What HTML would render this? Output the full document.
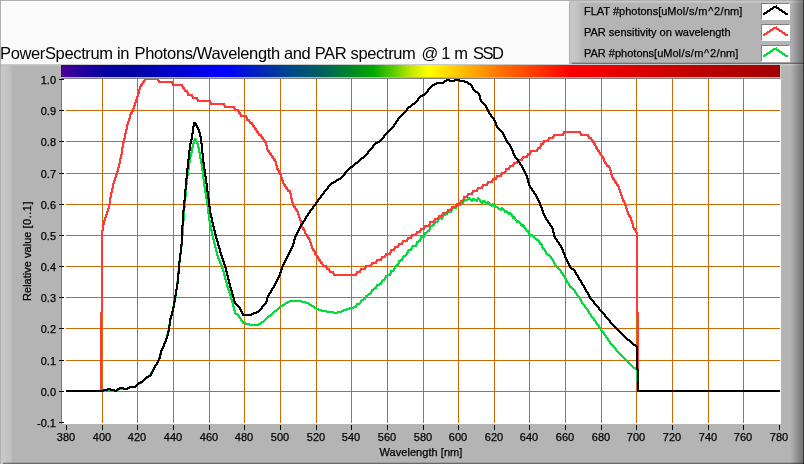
<!DOCTYPE html>
<html><head><meta charset="utf-8"><title>PowerSpectrum</title>
<style>
html,body{margin:0;padding:0;}
body{width:804px;height:464px;overflow:hidden;background:#fafafa;font-family:"Liberation Sans",sans-serif;position:relative;}
#top{position:absolute;left:0;top:0;width:804px;height:64px;background:#fafafa;box-sizing:border-box;border-left:1px solid #b0b0b0;border-top:1px solid #b0b0b0;box-shadow:inset 1px 1px 0 #fff;}
#title{position:absolute;left:0px;top:43px;font-size:16.5px;line-height:20px;color:#000;white-space:nowrap;letter-spacing:-0.36px;}
#panel{position:absolute;left:0;top:64px;width:804px;height:400px;background:#b4b4b4;}
#pl{position:absolute;left:0;top:64px;width:13px;height:400px;background:linear-gradient(to right,#b0b0b0 0,#b0b0b0 1px,#c8c8c8 1px,#c6c6c6 5px,#c0c0c0 10px,#b4b4b4 13px);}
#pt{position:absolute;left:1px;top:64px;width:803px;height:2px;background:linear-gradient(to bottom,#cacaca 0,#cacaca 1px,#c0c0c0 1px,#c0c0c0 2px);}
#pr{position:absolute;left:790px;top:0;width:14px;height:464px;background:linear-gradient(to right,rgba(0,0,0,0) 0,rgba(0,0,0,0.07) 3px,rgba(0,0,0,0.19) 7px,rgba(0,0,0,0.36) 13px,rgba(0,0,0,0.66) 13px,rgba(0,0,0,0.68) 14px);}
#pb{position:absolute;left:3px;top:462px;width:801px;height:2px;background:linear-gradient(to bottom,rgba(0,0,0,0.12) 0,rgba(0,0,0,0.12) 1px,rgba(0,0,0,0.42) 1px,rgba(0,0,0,0.42) 2px);}
#bar{position:absolute;left:61px;top:65px;width:719px;height:12px;background:linear-gradient(to right,
#480098 0px,#2000a0 25px,#0800a0 45px,#0000a4 70px,#0000d0 115px,#0000ff 165px,#0020c0 195px,#004888 230px,#006060 260px,#008030 285px,#00a800 312px,#50c800 330px,#c0e800 350px,#ffff00 367px,#ffc000 400px,#ff7000 440px,#ff3000 480px,#f80000 510px,#f00000 540px,#c80000 620px,#a00000 719px);}
#barr{position:absolute;left:780px;top:65px;width:1px;height:12px;background:#c4cccc;}
#plot{position:absolute;left:62px;top:79px;width:719px;height:345px;background:#fff;}
#pborderl{position:absolute;left:61px;top:78px;width:1px;height:346px;background:#787878;}
#pbordert{position:absolute;left:61px;top:78px;width:719px;height:1px;background:#808080;}
svg{position:absolute;left:0;top:0;}
.xl,.yl,.lg,#xt,#title{will-change:transform;}
.xl,.yl,.lg,#xt,#yt span{-webkit-text-stroke:0.25px #000;}
.xl{position:absolute;top:430px;width:40px;text-align:center;font-size:11px;line-height:14px;color:#000;}
.yl{position:absolute;left:16px;width:40px;text-align:right;font-size:11px;line-height:14px;color:#000;}
#xt{position:absolute;left:321.4px;top:445px;letter-spacing:0.05px;width:200px;text-align:center;font-size:11px;line-height:14px;}
#yt{position:absolute;left:26.8px;top:251px;width:0;height:0;}
#yt span{position:absolute;display:block;white-space:nowrap;font-size:11px;line-height:14px;letter-spacing:0.02px;transform:translate(-50%,-50%) rotate(-90deg);}
#legend{position:absolute;left:569px;top:0;width:235px;height:64px;background:#b4b4b4;}
#ll{position:absolute;left:569px;top:0;width:13px;height:62px;background:linear-gradient(to right,#b0b0b0 0,#b0b0b0 1px,#c8c8c8 1px,#c6c6c6 5px,#c0c0c0 10px,#b4b4b4 13px);}
#lt{position:absolute;left:569px;top:0;width:235px;height:3px;background:linear-gradient(to bottom,#b0b0b0 0,#b0b0b0 1px,#c8c8c8 1px,#c2c2c2 3px);}
#lb{position:absolute;left:572px;top:62px;width:232px;height:2px;background:linear-gradient(to bottom,#a0a0a0 0,#a0a0a0 1px,#707070 1px,#707070 2px);}
.lg{position:absolute;left:584px;font-size:11px;line-height:14px;white-space:nowrap;color:#000;}
.lg i{font-style:normal;margin:0 0.4px;}.lg b{font-weight:normal;margin:0 0.7px;}
#yt u{text-decoration:none;letter-spacing:0.5px;}
.ib{position:absolute;left:761px;width:29px;height:17px;background:#fff;box-sizing:border-box;border-top:1px solid #808080;border-left:1px solid #808080;border-right:1px solid #fff;border-bottom:1px solid #fff;}
</style></head><body>
<div id="top"></div>
<div id="title">PowerSpectrum in <span style="margin-left:1.3px">Photons/Wavelength and PAR spectrum</span> <span style="margin-left:1.8px">@</span> <span style="margin-left:-0.8px">1 m</span> <span style="margin-left:1px;letter-spacing:-1.5px">SSD</span></div>
<div id="panel"></div><div id="pl"></div><div id="pt"></div>
<div id="legend"></div><div id="ll"></div><div id="lt"></div><div id="lb"></div>
<div id="bar"></div><div id="barr"></div>
<div id="plot"></div><div id="pborderl"></div><div id="pbordert"></div>
<div class="lg" style="top:4px">FLAT #photons[uMol<i>/</i>s<i>/</i>m<b>^</b>2<i>/</i>nm]</div>
<div class="lg" style="top:25px">PAR sensitivity on wavelength</div>
<div class="lg" style="top:46px">PAR #photons[uMol<i>/</i>s<i>/</i>m<b>^</b>2<i>/</i>nm]</div>
<div class="ib" style="top:3px"></div><div class="ib" style="top:24px"></div><div class="ib" style="top:45px"></div>
<div class="xl" style="left:45.5px">380</div><div class="xl" style="left:81.5px">400</div><div class="xl" style="left:116.5px">420</div><div class="xl" style="left:152.5px">440</div><div class="xl" style="left:188.5px">460</div><div class="xl" style="left:223.5px">480</div><div class="xl" style="left:259.5px">500</div><div class="xl" style="left:295.5px">520</div><div class="xl" style="left:330.5px">540</div><div class="xl" style="left:366.5px">560</div><div class="xl" style="left:402.5px">580</div><div class="xl" style="left:437.5px">600</div><div class="xl" style="left:473.5px">620</div><div class="xl" style="left:508.5px">640</div><div class="xl" style="left:544.5px">660</div><div class="xl" style="left:580.5px">680</div><div class="xl" style="left:615.5px">700</div><div class="xl" style="left:651.5px">720</div><div class="xl" style="left:687.5px">740</div><div class="xl" style="left:722.5px">760</div><div class="xl" style="left:758.5px">780</div><div class="yl" style="top:73px">1.0</div><div class="yl" style="top:104px">0.9</div><div class="yl" style="top:135px">0.8</div><div class="yl" style="top:167px">0.7</div><div class="yl" style="top:198px">0.6</div><div class="yl" style="top:229px">0.5</div><div class="yl" style="top:260px">0.4</div><div class="yl" style="top:291px">0.3</div><div class="yl" style="top:322px">0.2</div><div class="yl" style="top:354px">0.1</div><div class="yl" style="top:385px">0.0</div><div class="yl" style="top:416px">-0.1</div>
<div id="xt">Wavelength [nm]</div>
<div id="yt"><span>Relative value <u>[0..1]</u></span></div>
<svg width="804" height="464" viewBox="0 0 804 464" shape-rendering="crispEdges">
<rect x="102" y="79" width="1" height="344" fill="#cc6a08"/><rect x="137" y="79" width="1" height="344" fill="#cc6a08"/><rect x="173" y="79" width="1" height="344" fill="#cc6a08"/><rect x="209" y="79" width="1" height="344" fill="#cc6a08"/><rect x="244" y="79" width="1" height="344" fill="#cc6a08"/><rect x="280" y="79" width="1" height="344" fill="#cc6a08"/><rect x="316" y="79" width="1" height="344" fill="#cc6a08"/><rect x="351" y="79" width="1" height="344" fill="#cc6a08"/><rect x="387" y="79" width="1" height="344" fill="#cc6a08"/><rect x="423" y="79" width="1" height="344" fill="#cc6a08"/><rect x="458" y="79" width="1" height="344" fill="#cc6a08"/><rect x="494" y="79" width="1" height="344" fill="#cc6a08"/><rect x="529" y="79" width="1" height="344" fill="#cc6a08"/><rect x="565" y="79" width="1" height="344" fill="#cc6a08"/><rect x="601" y="79" width="1" height="344" fill="#cc6a08"/><rect x="636" y="79" width="1" height="344" fill="#cc6a08"/><rect x="672" y="79" width="1" height="344" fill="#cc6a08"/><rect x="708" y="79" width="1" height="344" fill="#cc6a08"/><rect x="743" y="79" width="1" height="344" fill="#cc6a08"/><rect x="66" y="110" width="714" height="1" fill="#cc6a08"/><rect x="66" y="141" width="714" height="1" fill="#cc6a08"/><rect x="66" y="173" width="714" height="1" fill="#cc6a08"/><rect x="66" y="204" width="714" height="1" fill="#cc6a08"/><rect x="66" y="235" width="714" height="1" fill="#cc6a08"/><rect x="66" y="266" width="714" height="1" fill="#cc6a08"/><rect x="66" y="297" width="714" height="1" fill="#cc6a08"/><rect x="66" y="328" width="714" height="1" fill="#cc6a08"/><rect x="66" y="360" width="714" height="1" fill="#cc6a08"/><rect x="66" y="391" width="714" height="1" fill="#cc6a08"/><rect x="66" y="425" width="1" height="5" fill="#000"/><rect x="102" y="425" width="1" height="5" fill="#000"/><rect x="137" y="425" width="1" height="5" fill="#000"/><rect x="173" y="425" width="1" height="5" fill="#000"/><rect x="209" y="425" width="1" height="5" fill="#000"/><rect x="244" y="425" width="1" height="5" fill="#000"/><rect x="280" y="425" width="1" height="5" fill="#000"/><rect x="316" y="425" width="1" height="5" fill="#000"/><rect x="351" y="425" width="1" height="5" fill="#000"/><rect x="387" y="425" width="1" height="5" fill="#000"/><rect x="423" y="425" width="1" height="5" fill="#000"/><rect x="458" y="425" width="1" height="5" fill="#000"/><rect x="494" y="425" width="1" height="5" fill="#000"/><rect x="529" y="425" width="1" height="5" fill="#000"/><rect x="565" y="425" width="1" height="5" fill="#000"/><rect x="601" y="425" width="1" height="5" fill="#000"/><rect x="636" y="425" width="1" height="5" fill="#000"/><rect x="672" y="425" width="1" height="5" fill="#000"/><rect x="708" y="425" width="1" height="5" fill="#000"/><rect x="743" y="425" width="1" height="5" fill="#000"/><rect x="779" y="425" width="1" height="5" fill="#000"/><rect x="59" y="79" width="5" height="1" fill="#000"/><rect x="59" y="110" width="5" height="1" fill="#000"/><rect x="59" y="141" width="5" height="1" fill="#000"/><rect x="59" y="173" width="5" height="1" fill="#000"/><rect x="59" y="204" width="5" height="1" fill="#000"/><rect x="59" y="235" width="5" height="1" fill="#000"/><rect x="59" y="266" width="5" height="1" fill="#000"/><rect x="59" y="297" width="5" height="1" fill="#000"/><rect x="59" y="328" width="5" height="1" fill="#000"/><rect x="59" y="360" width="5" height="1" fill="#000"/><rect x="59" y="391" width="5" height="1" fill="#000"/><rect x="59" y="422" width="5" height="1" fill="#000"/>
<clipPath id="pc"><rect x="62" y="79" width="719" height="345"/></clipPath>
<g clip-path="url(#pc)">
<path fill="#00dc3c" d="M194 138h2v1h-2zM194 139h3v1h-3zM193 140h4v1h-4zM193 141h5v1h-5zM193 142h2v1h-2zM196 142h2v1h-2zM192 143h3v1h-3zM196 143h3v1h-3zM192 144h2v1h-2zM197 144h2v1h-2zM192 145h2v1h-2zM197 145h2v1h-2zM192 146h2v1h-2zM197 146h2v1h-2zM191 147h3v1h-3zM197 147h3v1h-3zM191 148h2v1h-2zM198 148h2v1h-2zM191 149h2v1h-2zM198 149h2v1h-2zM191 150h2v1h-2zM198 150h2v1h-2zM191 151h2v1h-2zM198 151h2v1h-2zM190 152h3v1h-3zM198 152h3v1h-3zM190 153h2v1h-2zM199 153h2v1h-2zM190 154h2v1h-2zM199 154h2v1h-2zM190 155h2v1h-2zM199 155h2v1h-2zM189 156h3v1h-3zM199 156h2v1h-2zM189 157h2v1h-2zM199 157h2v1h-2zM189 158h2v1h-2zM199 158h3v1h-3zM189 159h2v1h-2zM200 159h2v1h-2zM189 160h2v1h-2zM200 160h2v1h-2zM189 161h2v1h-2zM200 161h2v1h-2zM188 162h3v1h-3zM200 162h2v1h-2zM188 163h2v1h-2zM200 163h3v1h-3zM188 164h2v1h-2zM201 164h2v1h-2zM188 165h2v1h-2zM201 165h2v1h-2zM188 166h2v1h-2zM201 166h2v1h-2zM188 167h2v1h-2zM201 167h2v1h-2zM188 168h2v1h-2zM201 168h2v1h-2zM187 169h3v1h-3zM201 169h2v1h-2zM187 170h2v1h-2zM201 170h3v1h-3zM187 171h2v1h-2zM202 171h2v1h-2zM187 172h2v1h-2zM202 172h2v1h-2zM187 173h2v1h-2zM202 173h2v1h-2zM187 174h2v1h-2zM202 174h2v1h-2zM186 175h3v1h-3zM202 175h2v1h-2zM186 176h2v1h-2zM202 176h2v1h-2zM186 177h2v1h-2zM202 177h2v1h-2zM186 178h2v1h-2zM202 178h3v1h-3zM186 179h2v1h-2zM203 179h2v1h-2zM186 180h2v1h-2zM203 180h2v1h-2zM186 181h2v1h-2zM203 181h2v1h-2zM186 182h2v1h-2zM203 182h2v1h-2zM186 183h2v1h-2zM203 183h2v1h-2zM185 184h3v1h-3zM203 184h2v1h-2zM185 185h2v1h-2zM203 185h2v1h-2zM185 186h2v1h-2zM203 186h3v1h-3zM185 187h2v1h-2zM204 187h2v1h-2zM185 188h2v1h-2zM204 188h2v1h-2zM185 189h2v1h-2zM204 189h2v1h-2zM185 190h2v1h-2zM204 190h2v1h-2zM185 191h2v1h-2zM204 191h2v1h-2zM185 192h2v1h-2zM204 192h3v1h-3zM185 193h2v1h-2zM205 193h2v1h-2zM185 194h2v1h-2zM205 194h2v1h-2zM185 195h2v1h-2zM205 195h2v1h-2zM184 196h3v1h-3zM205 196h2v1h-2zM184 197h2v1h-2zM205 197h2v1h-2zM467 197h3v1h-3zM477 197h2v1h-2zM184 198h2v1h-2zM205 198h3v1h-3zM467 198h4v1h-4zM472 198h3v1h-3zM477 198h3v1h-3zM184 199h2v1h-2zM206 199h2v1h-2zM463 199h18v1h-18zM184 200h2v1h-2zM206 200h2v1h-2zM463 200h5v1h-5zM470 200h8v1h-8zM479 200h2v1h-2zM482 200h3v1h-3zM184 201h2v1h-2zM206 201h2v1h-2zM462 201h3v1h-3zM471 201h2v1h-2zM476 201h2v1h-2zM479 201h7v1h-7zM487 201h2v1h-2zM184 202h2v1h-2zM206 202h2v1h-2zM460 202h4v1h-4zM480 202h10v1h-10zM184 203h2v1h-2zM206 203h2v1h-2zM460 203h4v1h-4zM481 203h2v1h-2zM485 203h6v1h-6zM492 203h2v1h-2zM184 204h2v1h-2zM206 204h2v1h-2zM456 204h6v1h-6zM486 204h2v1h-2zM489 204h6v1h-6zM184 205h2v1h-2zM206 205h3v1h-3zM456 205h5v1h-5zM489 205h7v1h-7zM184 206h2v1h-2zM207 206h2v1h-2zM455 206h3v1h-3zM491 206h2v1h-2zM494 206h4v1h-4zM183 207h3v1h-3zM207 207h2v1h-2zM452 207h5v1h-5zM495 207h4v1h-4zM501 207h2v1h-2zM183 208h2v1h-2zM207 208h2v1h-2zM451 208h6v1h-6zM497 208h7v1h-7zM183 209h2v1h-2zM207 209h2v1h-2zM451 209h2v1h-2zM498 209h7v1h-7zM183 210h2v1h-2zM207 210h2v1h-2zM447 210h6v1h-6zM500 210h2v1h-2zM503 210h4v1h-4zM183 211h2v1h-2zM207 211h2v1h-2zM447 211h5v1h-5zM504 211h4v1h-4zM183 212h2v1h-2zM207 212h2v1h-2zM446 212h6v1h-6zM504 212h7v1h-7zM183 213h2v1h-2zM207 213h3v1h-3zM445 213h3v1h-3zM507 213h5v1h-5zM183 214h2v1h-2zM208 214h2v1h-2zM442 214h6v1h-6zM508 214h5v1h-5zM183 215h2v1h-2zM208 215h2v1h-2zM442 215h4v1h-4zM511 215h2v1h-2zM183 216h2v1h-2zM208 216h2v1h-2zM442 216h2v1h-2zM511 216h4v1h-4zM183 217h2v1h-2zM208 217h2v1h-2zM438 217h6v1h-6zM512 217h4v1h-4zM183 218h2v1h-2zM208 218h2v1h-2zM438 218h5v1h-5zM512 218h4v1h-4zM183 219h2v1h-2zM208 219h2v1h-2zM437 219h3v1h-3zM441 219h2v1h-2zM514 219h3v1h-3zM182 220h3v1h-3zM208 220h3v1h-3zM437 220h2v1h-2zM515 220h4v1h-4zM182 221h2v1h-2zM209 221h2v1h-2zM434 221h5v1h-5zM516 221h4v1h-4zM182 222h2v1h-2zM209 222h2v1h-2zM434 222h4v1h-4zM516 222h5v1h-5zM182 223h2v1h-2zM209 223h2v1h-2zM433 223h3v1h-3zM519 223h3v1h-3zM182 224h2v1h-2zM209 224h2v1h-2zM432 224h3v1h-3zM520 224h4v1h-4zM182 225h2v1h-2zM209 225h3v1h-3zM430 225h5v1h-5zM520 225h5v1h-5zM182 226h2v1h-2zM210 226h2v1h-2zM429 226h4v1h-4zM521 226h4v1h-4zM182 227h2v1h-2zM210 227h2v1h-2zM429 227h2v1h-2zM523 227h3v1h-3zM182 228h2v1h-2zM210 228h2v1h-2zM429 228h2v1h-2zM524 228h3v1h-3zM182 229h2v1h-2zM210 229h2v1h-2zM428 229h3v1h-3zM525 229h2v1h-2zM182 230h2v1h-2zM210 230h3v1h-3zM427 230h3v1h-3zM525 230h4v1h-4zM182 231h2v1h-2zM211 231h2v1h-2zM426 231h4v1h-4zM526 231h3v1h-3zM182 232h2v1h-2zM211 232h2v1h-2zM424 232h4v1h-4zM527 232h3v1h-3zM182 233h2v1h-2zM211 233h2v1h-2zM424 233h3v1h-3zM528 233h2v1h-2zM181 234h3v1h-3zM211 234h2v1h-2zM424 234h2v1h-2zM528 234h5v1h-5zM181 235h2v1h-2zM211 235h3v1h-3zM423 235h3v1h-3zM529 235h5v1h-5zM181 236h2v1h-2zM212 236h2v1h-2zM420 236h5v1h-5zM529 236h2v1h-2zM532 236h3v1h-3zM181 237h2v1h-2zM212 237h2v1h-2zM420 237h5v1h-5zM533 237h3v1h-3zM181 238h2v1h-2zM212 238h2v1h-2zM420 238h2v1h-2zM534 238h3v1h-3zM181 239h2v1h-2zM212 239h3v1h-3zM419 239h3v1h-3zM535 239h4v1h-4zM181 240h2v1h-2zM213 240h2v1h-2zM418 240h3v1h-3zM536 240h4v1h-4zM181 241h2v1h-2zM213 241h2v1h-2zM416 241h5v1h-5zM538 241h2v1h-2zM181 242h2v1h-2zM213 242h2v1h-2zM416 242h3v1h-3zM538 242h3v1h-3zM181 243h2v1h-2zM213 243h3v1h-3zM416 243h2v1h-2zM539 243h3v1h-3zM181 244h2v1h-2zM214 244h2v1h-2zM415 244h3v1h-3zM539 244h4v1h-4zM181 245h2v1h-2zM214 245h2v1h-2zM412 245h5v1h-5zM541 245h2v1h-2zM180 246h3v1h-3zM214 246h2v1h-2zM411 246h6v1h-6zM541 246h2v1h-2zM180 247h2v1h-2zM214 247h3v1h-3zM411 247h2v1h-2zM541 247h3v1h-3zM180 248h2v1h-2zM215 248h2v1h-2zM410 248h3v1h-3zM542 248h3v1h-3zM180 249h2v1h-2zM215 249h2v1h-2zM408 249h4v1h-4zM542 249h4v1h-4zM180 250h2v1h-2zM215 250h2v1h-2zM407 250h5v1h-5zM544 250h2v1h-2zM180 251h2v1h-2zM215 251h3v1h-3zM407 251h2v1h-2zM544 251h3v1h-3zM180 252h2v1h-2zM216 252h2v1h-2zM406 252h3v1h-3zM545 252h2v1h-2zM180 253h2v1h-2zM216 253h2v1h-2zM406 253h2v1h-2zM545 253h3v1h-3zM179 254h3v1h-3zM216 254h2v1h-2zM405 254h3v1h-3zM546 254h4v1h-4zM179 255h2v1h-2zM216 255h3v1h-3zM403 255h4v1h-4zM547 255h4v1h-4zM179 256h2v1h-2zM217 256h2v1h-2zM402 256h4v1h-4zM549 256h3v1h-3zM179 257h2v1h-2zM217 257h2v1h-2zM402 257h2v1h-2zM550 257h2v1h-2zM179 258h2v1h-2zM217 258h3v1h-3zM401 258h3v1h-3zM550 258h3v1h-3zM179 259h2v1h-2zM218 259h2v1h-2zM400 259h3v1h-3zM551 259h3v1h-3zM179 260h2v1h-2zM218 260h3v1h-3zM398 260h5v1h-5zM552 260h2v1h-2zM179 261h2v1h-2zM219 261h2v1h-2zM398 261h3v1h-3zM552 261h3v1h-3zM178 262h3v1h-3zM219 262h2v1h-2zM398 262h2v1h-2zM553 262h2v1h-2zM178 263h2v1h-2zM219 263h3v1h-3zM397 263h3v1h-3zM553 263h3v1h-3zM178 264h2v1h-2zM220 264h2v1h-2zM396 264h3v1h-3zM554 264h2v1h-2zM178 265h2v1h-2zM220 265h3v1h-3zM395 265h4v1h-4zM554 265h3v1h-3zM178 266h2v1h-2zM221 266h2v1h-2zM394 266h3v1h-3zM555 266h3v1h-3zM178 267h2v1h-2zM221 267h2v1h-2zM394 267h2v1h-2zM556 267h3v1h-3zM178 268h2v1h-2zM221 268h3v1h-3zM393 268h3v1h-3zM557 268h3v1h-3zM178 269h2v1h-2zM222 269h2v1h-2zM393 269h2v1h-2zM558 269h3v1h-3zM178 270h2v1h-2zM222 270h2v1h-2zM390 270h5v1h-5zM559 270h3v1h-3zM177 271h3v1h-3zM222 271h3v1h-3zM390 271h4v1h-4zM560 271h2v1h-2zM177 272h2v1h-2zM223 272h2v1h-2zM390 272h2v1h-2zM560 272h3v1h-3zM177 273h2v1h-2zM223 273h2v1h-2zM389 273h3v1h-3zM561 273h3v1h-3zM177 274h2v1h-2zM223 274h2v1h-2zM387 274h4v1h-4zM562 274h2v1h-2zM177 275h2v1h-2zM223 275h3v1h-3zM385 275h6v1h-6zM562 275h3v1h-3zM177 276h2v1h-2zM224 276h2v1h-2zM385 276h3v1h-3zM563 276h3v1h-3zM177 277h2v1h-2zM224 277h2v1h-2zM384 277h3v1h-3zM564 277h2v1h-2zM177 278h2v1h-2zM224 278h2v1h-2zM384 278h2v1h-2zM564 278h3v1h-3zM177 279h2v1h-2zM224 279h3v1h-3zM382 279h4v1h-4zM565 279h2v1h-2zM177 280h2v1h-2zM225 280h2v1h-2zM381 280h4v1h-4zM565 280h3v1h-3zM176 281h3v1h-3zM225 281h2v1h-2zM381 281h2v1h-2zM566 281h2v1h-2zM176 282h2v1h-2zM225 282h3v1h-3zM380 282h3v1h-3zM566 282h3v1h-3zM176 283h2v1h-2zM226 283h2v1h-2zM379 283h3v1h-3zM567 283h3v1h-3zM176 284h2v1h-2zM226 284h2v1h-2zM376 284h6v1h-6zM568 284h2v1h-2zM176 285h2v1h-2zM226 285h2v1h-2zM376 285h4v1h-4zM568 285h3v1h-3zM176 286h2v1h-2zM226 286h3v1h-3zM375 286h3v1h-3zM569 286h3v1h-3zM176 287h2v1h-2zM227 287h2v1h-2zM374 287h3v1h-3zM569 287h4v1h-4zM176 288h2v1h-2zM227 288h2v1h-2zM373 288h4v1h-4zM571 288h3v1h-3zM175 289h3v1h-3zM227 289h3v1h-3zM371 289h4v1h-4zM572 289h3v1h-3zM175 290h2v1h-2zM228 290h2v1h-2zM371 290h3v1h-3zM573 290h3v1h-3zM175 291h2v1h-2zM228 291h2v1h-2zM370 291h3v1h-3zM574 291h2v1h-2zM175 292h2v1h-2zM228 292h3v1h-3zM370 292h2v1h-2zM574 292h3v1h-3zM175 293h2v1h-2zM229 293h2v1h-2zM368 293h4v1h-4zM575 293h3v1h-3zM175 294h2v1h-2zM229 294h2v1h-2zM367 294h4v1h-4zM576 294h2v1h-2zM175 295h2v1h-2zM229 295h3v1h-3zM365 295h4v1h-4zM576 295h3v1h-3zM174 296h3v1h-3zM230 296h2v1h-2zM365 296h3v1h-3zM577 296h3v1h-3zM174 297h2v1h-2zM230 297h2v1h-2zM364 297h3v1h-3zM578 297h3v1h-3zM174 298h2v1h-2zM230 298h2v1h-2zM363 298h3v1h-3zM579 298h2v1h-2zM174 299h2v1h-2zM230 299h3v1h-3zM361 299h5v1h-5zM579 299h3v1h-3zM174 300h2v1h-2zM231 300h2v1h-2zM289 300h13v1h-13zM360 300h4v1h-4zM580 300h2v1h-2zM174 301h2v1h-2zM231 301h2v1h-2zM287 301h19v1h-19zM360 301h2v1h-2zM580 301h3v1h-3zM173 302h3v1h-3zM231 302h3v1h-3zM285 302h5v1h-5zM301 302h8v1h-8zM359 302h3v1h-3zM581 302h2v1h-2zM173 303h2v1h-2zM232 303h2v1h-2zM284 303h4v1h-4zM305 303h5v1h-5zM356 303h5v1h-5zM581 303h3v1h-3zM173 304h2v1h-2zM232 304h2v1h-2zM282 304h4v1h-4zM308 304h4v1h-4zM356 304h4v1h-4zM582 304h3v1h-3zM173 305h2v1h-2zM232 305h2v1h-2zM280 305h5v1h-5zM309 305h5v1h-5zM355 305h3v1h-3zM583 305h3v1h-3zM172 306h3v1h-3zM232 306h3v1h-3zM279 306h4v1h-4zM311 306h4v1h-4zM353 306h4v1h-4zM584 306h2v1h-2zM172 307h2v1h-2zM233 307h2v1h-2zM278 307h3v1h-3zM313 307h4v1h-4zM349 307h8v1h-8zM584 307h3v1h-3zM172 308h2v1h-2zM233 308h2v1h-2zM277 308h3v1h-3zM314 308h5v1h-5zM346 308h8v1h-8zM585 308h3v1h-3zM172 309h2v1h-2zM233 309h2v1h-2zM276 309h3v1h-3zM316 309h6v1h-6zM343 309h7v1h-7zM586 309h3v1h-3zM172 310h2v1h-2zM233 310h3v1h-3zM274 310h4v1h-4zM318 310h9v1h-9zM341 310h6v1h-6zM587 310h2v1h-2zM171 311h3v1h-3zM234 311h2v1h-2zM273 311h4v1h-4zM321 311h13v1h-13zM337 311h7v1h-7zM587 311h3v1h-3zM171 312h2v1h-2zM234 312h2v1h-2zM272 312h3v1h-3zM326 312h16v1h-16zM588 312h2v1h-2zM171 313h2v1h-2zM234 313h4v1h-4zM271 313h3v1h-3zM333 313h5v1h-5zM588 313h3v1h-3zM171 314h2v1h-2zM235 314h4v1h-4zM270 314h3v1h-3zM589 314h3v1h-3zM170 315h3v1h-3zM237 315h3v1h-3zM268 315h4v1h-4zM590 315h2v1h-2zM170 316h2v1h-2zM238 316h2v1h-2zM267 316h4v1h-4zM590 316h3v1h-3zM170 317h2v1h-2zM238 317h3v1h-3zM266 317h3v1h-3zM591 317h3v1h-3zM170 318h2v1h-2zM239 318h3v1h-3zM265 318h3v1h-3zM592 318h3v1h-3zM169 319h3v1h-3zM240 319h2v1h-2zM264 319h3v1h-3zM593 319h2v1h-2zM169 320h2v1h-2zM240 320h3v1h-3zM263 320h3v1h-3zM593 320h3v1h-3zM169 321h2v1h-2zM241 321h3v1h-3zM261 321h4v1h-4zM594 321h3v1h-3zM169 322h2v1h-2zM242 322h4v1h-4zM260 322h4v1h-4zM595 322h2v1h-2zM169 323h2v1h-2zM242 323h8v1h-8zM258 323h4v1h-4zM595 323h3v1h-3zM168 324h3v1h-3zM245 324h16v1h-16zM596 324h3v1h-3zM168 325h2v1h-2zM249 325h10v1h-10zM597 325h3v1h-3zM168 326h2v1h-2zM598 326h2v1h-2zM168 327h2v1h-2zM598 327h3v1h-3zM168 328h2v1h-2zM599 328h3v1h-3zM168 329h2v1h-2zM600 329h2v1h-2zM167 330h3v1h-3zM600 330h3v1h-3zM167 331h2v1h-2zM601 331h3v1h-3zM167 332h2v1h-2zM602 332h3v1h-3zM167 333h2v1h-2zM603 333h2v1h-2zM166 334h3v1h-3zM603 334h3v1h-3zM166 335h2v1h-2zM604 335h3v1h-3zM166 336h2v1h-2zM605 336h2v1h-2zM166 337h2v1h-2zM605 337h3v1h-3zM165 338h3v1h-3zM606 338h3v1h-3zM165 339h2v1h-2zM607 339h2v1h-2zM165 340h2v1h-2zM607 340h3v1h-3zM164 341h3v1h-3zM608 341h3v1h-3zM164 342h2v1h-2zM609 342h2v1h-2zM163 343h3v1h-3zM609 343h3v1h-3zM163 344h2v1h-2zM610 344h3v1h-3zM163 345h2v1h-2zM611 345h3v1h-3zM162 346h3v1h-3zM612 346h3v1h-3zM162 347h2v1h-2zM613 347h3v1h-3zM161 348h3v1h-3zM614 348h3v1h-3zM161 349h2v1h-2zM615 349h2v1h-2zM160 350h3v1h-3zM615 350h3v1h-3zM160 351h2v1h-2zM616 351h3v1h-3zM160 352h2v1h-2zM617 352h3v1h-3zM159 353h3v1h-3zM618 353h3v1h-3zM159 354h2v1h-2zM619 354h3v1h-3zM159 355h2v1h-2zM620 355h3v1h-3zM159 356h2v1h-2zM621 356h3v1h-3zM158 357h3v1h-3zM622 357h3v1h-3zM158 358h2v1h-2zM623 358h3v1h-3zM158 359h2v1h-2zM624 359h3v1h-3zM157 360h3v1h-3zM625 360h3v1h-3zM157 361h2v1h-2zM626 361h3v1h-3zM156 362h3v1h-3zM627 362h3v1h-3zM156 363h2v1h-2zM628 363h3v1h-3zM155 364h3v1h-3zM629 364h3v1h-3zM154 365h3v1h-3zM630 365h3v1h-3zM154 366h2v1h-2zM631 366h3v1h-3zM153 367h3v1h-3zM632 367h4v1h-4zM153 368h2v1h-2zM633 368h4v1h-4zM152 369h3v1h-3zM635 369h3v1h-3zM152 370h2v1h-2zM636 370h2v1h-2zM151 371h3v1h-3zM636 371h2v1h-2zM150 372h3v1h-3zM636 372h2v1h-2zM150 373h2v1h-2zM636 373h2v1h-2zM149 374h3v1h-3zM636 374h2v1h-2zM148 375h3v1h-3zM636 375h2v1h-2zM147 376h3v1h-3zM636 376h2v1h-2zM145 377h4v1h-4zM636 377h2v1h-2zM144 378h4v1h-4zM636 378h2v1h-2zM143 379h3v1h-3zM636 379h2v1h-2zM142 380h3v1h-3zM636 380h3v1h-3zM141 381h3v1h-3zM637 381h2v1h-2zM139 382h4v1h-4zM637 382h2v1h-2zM137 383h5v1h-5zM637 383h2v1h-2zM136 384h4v1h-4zM637 384h2v1h-2zM135 385h3v1h-3zM637 385h2v1h-2zM129 386h8v1h-8zM637 386h2v1h-2zM127 387h9v1h-9zM637 387h2v1h-2zM118 388h12v1h-12zM637 388h2v1h-2zM104 389h10v1h-10zM116 389h12v1h-12zM637 389h2v1h-2zM101 390h18v1h-18zM637 390h2v1h-2zM101 391h4v1h-4zM113 391h4v1h-4zM637 391h2v1h-2z"/>
<path fill="#ff3838" d="M144 78h15v1h-15zM144 79h15v1h-15zM143 80h3v1h-3zM157 80h3v1h-3zM142 81h3v1h-3zM158 81h15v1h-15zM142 82h3v1h-3zM158 82h15v1h-15zM141 83h3v1h-3zM171 83h3v1h-3zM140 84h3v1h-3zM172 84h11v1h-11zM140 85h3v1h-3zM172 85h11v1h-11zM139 86h3v1h-3zM181 86h3v1h-3zM139 87h2v1h-2zM182 87h3v1h-3zM139 88h2v1h-2zM182 88h3v1h-3zM138 89h3v1h-3zM183 89h3v1h-3zM138 90h2v1h-2zM184 90h4v1h-4zM138 91h2v1h-2zM184 91h4v1h-4zM138 92h2v1h-2zM186 92h3v1h-3zM137 93h3v1h-3zM187 93h2v1h-2zM137 94h2v1h-2zM187 94h6v1h-6zM137 95h2v1h-2zM187 95h6v1h-6zM136 96h3v1h-3zM191 96h3v1h-3zM136 97h2v1h-2zM192 97h6v1h-6zM136 98h2v1h-2zM192 98h6v1h-6zM135 99h3v1h-3zM196 99h3v1h-3zM135 100h2v1h-2zM197 100h14v1h-14zM135 101h2v1h-2zM197 101h14v1h-14zM134 102h3v1h-3zM209 102h3v1h-3zM134 103h2v1h-2zM210 103h15v1h-15zM134 104h2v1h-2zM210 104h15v1h-15zM133 105h3v1h-3zM223 105h3v1h-3zM133 106h2v1h-2zM224 106h11v1h-11zM133 107h2v1h-2zM224 107h11v1h-11zM132 108h3v1h-3zM233 108h3v1h-3zM132 109h2v1h-2zM234 109h5v1h-5zM132 110h2v1h-2zM234 110h5v1h-5zM131 111h3v1h-3zM237 111h3v1h-3zM130 112h3v1h-3zM238 112h3v1h-3zM130 113h3v1h-3zM238 113h3v1h-3zM129 114h3v1h-3zM239 114h3v1h-3zM129 115h2v1h-2zM240 115h7v1h-7zM129 116h2v1h-2zM240 116h7v1h-7zM129 117h2v1h-2zM245 117h3v1h-3zM128 118h3v1h-3zM246 118h2v1h-2zM128 119h2v1h-2zM246 119h4v1h-4zM128 120h2v1h-2zM246 120h4v1h-4zM127 121h3v1h-3zM248 121h3v1h-3zM127 122h2v1h-2zM249 122h4v1h-4zM127 123h2v1h-2zM249 123h4v1h-4zM126 124h3v1h-3zM251 124h3v1h-3zM126 125h2v1h-2zM252 125h3v1h-3zM126 126h2v1h-2zM252 126h3v1h-3zM126 127h2v1h-2zM253 127h3v1h-3zM126 128h2v1h-2zM254 128h3v1h-3zM125 129h3v1h-3zM254 129h3v1h-3zM125 130h2v1h-2zM255 130h3v1h-3zM125 131h2v1h-2zM256 131h3v1h-3zM563 131h18v1h-18zM125 132h2v1h-2zM256 132h3v1h-3zM563 132h18v1h-18zM124 133h3v1h-3zM257 133h3v1h-3zM562 133h3v1h-3zM579 133h3v1h-3zM124 134h2v1h-2zM258 134h4v1h-4zM553 134h11v1h-11zM580 134h9v1h-9zM124 135h2v1h-2zM258 135h4v1h-4zM553 135h11v1h-11zM580 135h9v1h-9zM124 136h2v1h-2zM260 136h3v1h-3zM552 136h3v1h-3zM587 136h3v1h-3zM124 137h2v1h-2zM261 137h3v1h-3zM548 137h6v1h-6zM588 137h4v1h-4zM123 138h3v1h-3zM261 138h3v1h-3zM548 138h6v1h-6zM588 138h4v1h-4zM123 139h2v1h-2zM262 139h3v1h-3zM547 139h3v1h-3zM590 139h3v1h-3zM123 140h2v1h-2zM263 140h3v1h-3zM543 140h6v1h-6zM591 140h3v1h-3zM123 141h2v1h-2zM263 141h3v1h-3zM543 141h6v1h-6zM591 141h3v1h-3zM122 142h3v1h-3zM264 142h3v1h-3zM542 142h3v1h-3zM592 142h3v1h-3zM122 143h2v1h-2zM265 143h2v1h-2zM540 143h4v1h-4zM593 143h3v1h-3zM122 144h2v1h-2zM265 144h2v1h-2zM540 144h4v1h-4zM593 144h3v1h-3zM122 145h2v1h-2zM265 145h3v1h-3zM540 145h2v1h-2zM594 145h3v1h-3zM122 146h2v1h-2zM266 146h2v1h-2zM539 146h3v1h-3zM595 146h2v1h-2zM121 147h3v1h-3zM266 147h2v1h-2zM537 147h4v1h-4zM595 147h3v1h-3zM121 148h2v1h-2zM266 148h2v1h-2zM537 148h4v1h-4zM595 148h3v1h-3zM121 149h2v1h-2zM266 149h3v1h-3zM536 149h3v1h-3zM596 149h3v1h-3zM121 150h2v1h-2zM267 150h3v1h-3zM530 150h8v1h-8zM597 150h3v1h-3zM121 151h2v1h-2zM267 151h3v1h-3zM530 151h8v1h-8zM597 151h3v1h-3zM121 152h2v1h-2zM268 152h3v1h-3zM529 152h3v1h-3zM598 152h3v1h-3zM121 153h2v1h-2zM269 153h3v1h-3zM527 153h4v1h-4zM599 153h3v1h-3zM120 154h3v1h-3zM269 154h3v1h-3zM527 154h4v1h-4zM599 154h3v1h-3zM120 155h2v1h-2zM270 155h3v1h-3zM526 155h3v1h-3zM600 155h3v1h-3zM120 156h2v1h-2zM271 156h3v1h-3zM522 156h6v1h-6zM601 156h3v1h-3zM120 157h2v1h-2zM271 157h3v1h-3zM522 157h6v1h-6zM601 157h3v1h-3zM119 158h3v1h-3zM272 158h3v1h-3zM521 158h3v1h-3zM602 158h3v1h-3zM119 159h2v1h-2zM273 159h3v1h-3zM517 159h6v1h-6zM603 159h2v1h-2zM119 160h2v1h-2zM273 160h3v1h-3zM517 160h6v1h-6zM603 160h2v1h-2zM119 161h2v1h-2zM274 161h3v1h-3zM516 161h3v1h-3zM603 161h3v1h-3zM119 162h2v1h-2zM275 162h2v1h-2zM513 162h5v1h-5zM604 162h3v1h-3zM118 163h3v1h-3zM275 163h2v1h-2zM513 163h5v1h-5zM604 163h3v1h-3zM118 164h2v1h-2zM275 164h2v1h-2zM512 164h3v1h-3zM605 164h3v1h-3zM118 165h2v1h-2zM275 165h3v1h-3zM509 165h5v1h-5zM606 165h4v1h-4zM118 166h2v1h-2zM276 166h2v1h-2zM509 166h5v1h-5zM606 166h4v1h-4zM117 167h3v1h-3zM276 167h2v1h-2zM508 167h3v1h-3zM608 167h3v1h-3zM117 168h2v1h-2zM276 168h3v1h-3zM505 168h5v1h-5zM609 168h2v1h-2zM117 169h2v1h-2zM276 169h3v1h-3zM505 169h5v1h-5zM609 169h2v1h-2zM117 170h2v1h-2zM277 170h3v1h-3zM505 170h2v1h-2zM609 170h3v1h-3zM116 171h3v1h-3zM278 171h2v1h-2zM504 171h3v1h-3zM610 171h2v1h-2zM116 172h2v1h-2zM278 172h3v1h-3zM501 172h5v1h-5zM610 172h2v1h-2zM116 173h2v1h-2zM278 173h3v1h-3zM501 173h5v1h-5zM610 173h2v1h-2zM115 174h3v1h-3zM279 174h3v1h-3zM500 174h3v1h-3zM610 174h3v1h-3zM115 175h2v1h-2zM280 175h2v1h-2zM496 175h6v1h-6zM611 175h2v1h-2zM115 176h2v1h-2zM280 176h2v1h-2zM496 176h6v1h-6zM611 176h2v1h-2zM114 177h3v1h-3zM280 177h3v1h-3zM495 177h3v1h-3zM611 177h3v1h-3zM114 178h2v1h-2zM281 178h2v1h-2zM492 178h5v1h-5zM612 178h3v1h-3zM114 179h2v1h-2zM281 179h2v1h-2zM492 179h5v1h-5zM612 179h3v1h-3zM113 180h3v1h-3zM281 180h3v1h-3zM491 180h3v1h-3zM613 180h3v1h-3zM113 181h2v1h-2zM282 181h2v1h-2zM487 181h6v1h-6zM614 181h3v1h-3zM113 182h2v1h-2zM282 182h2v1h-2zM487 182h6v1h-6zM614 182h3v1h-3zM112 183h3v1h-3zM282 183h3v1h-3zM486 183h3v1h-3zM615 183h3v1h-3zM112 184h2v1h-2zM283 184h3v1h-3zM482 184h6v1h-6zM616 184h3v1h-3zM112 185h2v1h-2zM283 185h3v1h-3zM482 185h6v1h-6zM616 185h3v1h-3zM112 186h2v1h-2zM284 186h3v1h-3zM481 186h3v1h-3zM617 186h3v1h-3zM112 187h2v1h-2zM285 187h3v1h-3zM477 187h6v1h-6zM618 187h2v1h-2zM111 188h3v1h-3zM285 188h3v1h-3zM477 188h6v1h-6zM618 188h2v1h-2zM111 189h2v1h-2zM286 189h3v1h-3zM476 189h3v1h-3zM618 189h3v1h-3zM111 190h2v1h-2zM287 190h4v1h-4zM472 190h6v1h-6zM619 190h2v1h-2zM111 191h2v1h-2zM287 191h4v1h-4zM472 191h6v1h-6zM619 191h2v1h-2zM110 192h3v1h-3zM289 192h2v1h-2zM471 192h3v1h-3zM619 192h3v1h-3zM110 193h2v1h-2zM289 193h3v1h-3zM467 193h6v1h-6zM620 193h2v1h-2zM110 194h2v1h-2zM290 194h2v1h-2zM467 194h6v1h-6zM620 194h2v1h-2zM110 195h2v1h-2zM290 195h2v1h-2zM466 195h3v1h-3zM620 195h3v1h-3zM110 196h2v1h-2zM290 196h2v1h-2zM463 196h5v1h-5zM621 196h2v1h-2zM109 197h3v1h-3zM290 197h2v1h-2zM463 197h5v1h-5zM621 197h2v1h-2zM109 198h2v1h-2zM290 198h3v1h-3zM463 198h2v1h-2zM621 198h3v1h-3zM109 199h2v1h-2zM291 199h2v1h-2zM462 199h3v1h-3zM622 199h2v1h-2zM109 200h2v1h-2zM291 200h2v1h-2zM460 200h4v1h-4zM622 200h3v1h-3zM109 201h2v1h-2zM291 201h2v1h-2zM460 201h4v1h-4zM622 201h3v1h-3zM109 202h2v1h-2zM291 202h3v1h-3zM459 202h3v1h-3zM623 202h3v1h-3zM109 203h2v1h-2zM292 203h2v1h-2zM456 203h5v1h-5zM624 203h2v1h-2zM108 204h3v1h-3zM292 204h2v1h-2zM456 204h5v1h-5zM624 204h2v1h-2zM108 205h2v1h-2zM292 205h3v1h-3zM455 205h3v1h-3zM624 205h3v1h-3zM108 206h2v1h-2zM293 206h3v1h-3zM451 206h6v1h-6zM625 206h2v1h-2zM108 207h2v1h-2zM293 207h3v1h-3zM451 207h6v1h-6zM625 207h2v1h-2zM107 208h3v1h-3zM294 208h3v1h-3zM450 208h3v1h-3zM625 208h3v1h-3zM107 209h2v1h-2zM295 209h3v1h-3zM447 209h5v1h-5zM626 209h2v1h-2zM107 210h2v1h-2zM295 210h3v1h-3zM447 210h5v1h-5zM626 210h2v1h-2zM106 211h3v1h-3zM296 211h3v1h-3zM446 211h3v1h-3zM626 211h3v1h-3zM106 212h2v1h-2zM297 212h2v1h-2zM442 212h6v1h-6zM627 212h2v1h-2zM106 213h2v1h-2zM297 213h2v1h-2zM442 213h6v1h-6zM627 213h2v1h-2zM105 214h3v1h-3zM297 214h3v1h-3zM441 214h3v1h-3zM627 214h3v1h-3zM105 215h2v1h-2zM298 215h2v1h-2zM438 215h5v1h-5zM628 215h3v1h-3zM105 216h2v1h-2zM298 216h2v1h-2zM438 216h5v1h-5zM628 216h3v1h-3zM104 217h3v1h-3zM298 217h3v1h-3zM437 217h3v1h-3zM629 217h3v1h-3zM104 218h2v1h-2zM299 218h2v1h-2zM434 218h5v1h-5zM630 218h2v1h-2zM104 219h2v1h-2zM299 219h2v1h-2zM434 219h5v1h-5zM630 219h2v1h-2zM103 220h3v1h-3zM299 220h3v1h-3zM433 220h3v1h-3zM630 220h3v1h-3zM103 221h2v1h-2zM300 221h2v1h-2zM429 221h6v1h-6zM631 221h2v1h-2zM103 222h2v1h-2zM300 222h2v1h-2zM429 222h6v1h-6zM631 222h2v1h-2zM103 223h2v1h-2zM300 223h3v1h-3zM429 223h2v1h-2zM631 223h3v1h-3zM102 224h3v1h-3zM301 224h2v1h-2zM428 224h3v1h-3zM632 224h2v1h-2zM102 225h2v1h-2zM301 225h2v1h-2zM424 225h6v1h-6zM632 225h2v1h-2zM102 226h2v1h-2zM301 226h2v1h-2zM424 226h6v1h-6zM632 226h2v1h-2zM102 227h2v1h-2zM301 227h3v1h-3zM423 227h3v1h-3zM632 227h3v1h-3zM102 228h2v1h-2zM302 228h3v1h-3zM420 228h5v1h-5zM633 228h3v1h-3zM102 229h2v1h-2zM302 229h3v1h-3zM420 229h5v1h-5zM633 229h3v1h-3zM101 230h3v1h-3zM303 230h3v1h-3zM419 230h3v1h-3zM634 230h3v1h-3zM101 231h2v1h-2zM304 231h2v1h-2zM416 231h5v1h-5zM635 231h2v1h-2zM101 232h2v1h-2zM304 232h2v1h-2zM416 232h5v1h-5zM635 232h3v1h-3zM101 233h2v1h-2zM304 233h3v1h-3zM415 233h3v1h-3zM636 233h2v1h-2zM101 234h2v1h-2zM305 234h3v1h-3zM411 234h6v1h-6zM636 234h2v1h-2zM101 235h2v1h-2zM305 235h3v1h-3zM411 235h6v1h-6zM636 235h2v1h-2zM101 236h2v1h-2zM306 236h3v1h-3zM410 236h3v1h-3zM636 236h2v1h-2zM101 237h2v1h-2zM307 237h3v1h-3zM407 237h5v1h-5zM636 237h2v1h-2zM101 238h2v1h-2zM307 238h3v1h-3zM407 238h5v1h-5zM636 238h2v1h-2zM101 239h2v1h-2zM308 239h3v1h-3zM406 239h3v1h-3zM636 239h2v1h-2zM101 240h2v1h-2zM309 240h2v1h-2zM402 240h6v1h-6zM636 240h2v1h-2zM101 241h2v1h-2zM309 241h2v1h-2zM402 241h6v1h-6zM636 241h2v1h-2zM101 242h2v1h-2zM309 242h3v1h-3zM401 242h3v1h-3zM636 242h2v1h-2zM101 243h2v1h-2zM310 243h2v1h-2zM398 243h5v1h-5zM636 243h2v1h-2zM101 244h2v1h-2zM310 244h2v1h-2zM398 244h5v1h-5zM636 244h2v1h-2zM101 245h2v1h-2zM310 245h3v1h-3zM397 245h3v1h-3zM636 245h2v1h-2zM101 246h2v1h-2zM311 246h2v1h-2zM394 246h5v1h-5zM636 246h2v1h-2zM101 247h2v1h-2zM311 247h2v1h-2zM394 247h5v1h-5zM636 247h2v1h-2zM101 248h2v1h-2zM311 248h3v1h-3zM393 248h3v1h-3zM636 248h2v1h-2zM101 249h2v1h-2zM312 249h3v1h-3zM390 249h5v1h-5zM636 249h2v1h-2zM101 250h2v1h-2zM312 250h3v1h-3zM390 250h5v1h-5zM636 250h2v1h-2zM101 251h2v1h-2zM313 251h3v1h-3zM390 251h2v1h-2zM636 251h2v1h-2zM101 252h2v1h-2zM314 252h2v1h-2zM389 252h3v1h-3zM636 252h2v1h-2zM101 253h2v1h-2zM314 253h3v1h-3zM385 253h6v1h-6zM636 253h2v1h-2zM101 254h2v1h-2zM314 254h3v1h-3zM385 254h6v1h-6zM636 254h2v1h-2zM101 255h2v1h-2zM315 255h3v1h-3zM384 255h3v1h-3zM636 255h2v1h-2zM101 256h2v1h-2zM316 256h3v1h-3zM381 256h5v1h-5zM636 256h2v1h-2zM101 257h2v1h-2zM316 257h3v1h-3zM381 257h5v1h-5zM636 257h2v1h-2zM101 258h2v1h-2zM317 258h3v1h-3zM380 258h3v1h-3zM636 258h2v1h-2zM101 259h2v1h-2zM318 259h3v1h-3zM376 259h6v1h-6zM636 259h2v1h-2zM101 260h2v1h-2zM318 260h3v1h-3zM376 260h6v1h-6zM636 260h2v1h-2zM101 261h2v1h-2zM319 261h3v1h-3zM375 261h3v1h-3zM636 261h2v1h-2zM101 262h2v1h-2zM320 262h3v1h-3zM371 262h6v1h-6zM636 262h2v1h-2zM101 263h2v1h-2zM320 263h3v1h-3zM371 263h6v1h-6zM636 263h2v1h-2zM101 264h2v1h-2zM321 264h3v1h-3zM370 264h3v1h-3zM636 264h2v1h-2zM101 265h2v1h-2zM322 265h5v1h-5zM365 265h7v1h-7zM636 265h2v1h-2zM101 266h2v1h-2zM322 266h5v1h-5zM365 266h7v1h-7zM636 266h2v1h-2zM101 267h2v1h-2zM325 267h3v1h-3zM364 267h3v1h-3zM636 267h2v1h-2zM101 268h2v1h-2zM326 268h4v1h-4zM360 268h6v1h-6zM636 268h2v1h-2zM101 269h2v1h-2zM326 269h4v1h-4zM360 269h6v1h-6zM636 269h2v1h-2zM101 270h2v1h-2zM328 270h3v1h-3zM359 270h3v1h-3zM636 270h2v1h-2zM101 271h2v1h-2zM329 271h5v1h-5zM356 271h5v1h-5zM636 271h2v1h-2zM101 272h2v1h-2zM329 272h5v1h-5zM356 272h5v1h-5zM636 272h2v1h-2zM101 273h2v1h-2zM332 273h3v1h-3zM355 273h3v1h-3zM636 273h2v1h-2zM101 274h2v1h-2zM333 274h24v1h-24zM636 274h2v1h-2zM101 275h2v1h-2zM333 275h24v1h-24zM636 275h2v1h-2zM101 276h2v1h-2zM636 276h2v1h-2zM101 277h2v1h-2zM636 277h2v1h-2zM101 278h2v1h-2zM636 278h2v1h-2zM101 279h2v1h-2zM636 279h2v1h-2zM101 280h2v1h-2zM636 280h2v1h-2zM101 281h2v1h-2zM636 281h2v1h-2zM101 282h2v1h-2zM636 282h2v1h-2zM101 283h2v1h-2zM636 283h2v1h-2zM101 284h2v1h-2zM636 284h2v1h-2zM101 285h2v1h-2zM636 285h2v1h-2zM101 286h2v1h-2zM636 286h2v1h-2zM101 287h2v1h-2zM636 287h2v1h-2zM101 288h2v1h-2zM636 288h2v1h-2zM101 289h2v1h-2zM636 289h2v1h-2zM101 290h2v1h-2zM636 290h2v1h-2zM101 291h2v1h-2zM636 291h2v1h-2zM101 292h2v1h-2zM636 292h2v1h-2zM101 293h2v1h-2zM636 293h2v1h-2zM101 294h2v1h-2zM636 294h2v1h-2zM101 295h2v1h-2zM636 295h2v1h-2zM101 296h2v1h-2zM636 296h2v1h-2zM101 297h2v1h-2zM636 297h2v1h-2zM101 298h2v1h-2zM636 298h2v1h-2zM101 299h2v1h-2zM636 299h2v1h-2zM101 300h2v1h-2zM636 300h2v1h-2zM101 301h2v1h-2zM636 301h2v1h-2zM101 302h2v1h-2zM636 302h2v1h-2zM101 303h2v1h-2zM636 303h2v1h-2zM101 304h2v1h-2zM636 304h2v1h-2zM101 305h2v1h-2zM636 305h2v1h-2zM101 306h2v1h-2zM636 306h2v1h-2zM101 307h2v1h-2zM636 307h2v1h-2zM101 308h2v1h-2zM636 308h2v1h-2zM101 309h2v1h-2zM636 309h2v1h-2zM101 310h2v1h-2zM636 310h2v1h-2zM101 311h2v1h-2zM636 311h2v1h-2zM100 312h3v1h-3zM636 312h3v1h-3zM100 313h2v1h-2zM637 313h2v1h-2zM100 314h2v1h-2zM637 314h2v1h-2zM100 315h2v1h-2zM637 315h2v1h-2zM100 316h2v1h-2zM637 316h2v1h-2zM100 317h2v1h-2zM637 317h2v1h-2zM100 318h2v1h-2zM637 318h2v1h-2zM100 319h2v1h-2zM637 319h2v1h-2zM100 320h2v1h-2zM637 320h2v1h-2zM100 321h2v1h-2zM637 321h2v1h-2zM100 322h2v1h-2zM637 322h2v1h-2zM100 323h2v1h-2zM637 323h2v1h-2zM100 324h2v1h-2zM637 324h2v1h-2zM100 325h2v1h-2zM637 325h2v1h-2zM100 326h2v1h-2zM637 326h2v1h-2zM100 327h2v1h-2zM637 327h2v1h-2zM100 328h2v1h-2zM637 328h2v1h-2zM100 329h2v1h-2zM637 329h2v1h-2zM100 330h2v1h-2zM637 330h2v1h-2zM100 331h2v1h-2zM637 331h2v1h-2zM100 332h2v1h-2zM637 332h2v1h-2zM100 333h2v1h-2zM637 333h2v1h-2zM100 334h2v1h-2zM637 334h2v1h-2zM100 335h2v1h-2zM637 335h2v1h-2zM100 336h2v1h-2zM637 336h2v1h-2zM100 337h2v1h-2zM637 337h2v1h-2zM100 338h2v1h-2zM637 338h2v1h-2zM100 339h2v1h-2zM637 339h2v1h-2zM100 340h2v1h-2zM637 340h2v1h-2zM100 341h2v1h-2zM637 341h2v1h-2zM100 342h2v1h-2zM637 342h2v1h-2zM100 343h2v1h-2zM637 343h2v1h-2zM100 344h2v1h-2zM637 344h2v1h-2zM100 345h2v1h-2zM637 345h2v1h-2zM100 346h2v1h-2zM637 346h2v1h-2zM100 347h2v1h-2zM637 347h2v1h-2zM100 348h2v1h-2zM637 348h2v1h-2zM100 349h2v1h-2zM637 349h2v1h-2zM100 350h2v1h-2zM637 350h2v1h-2zM100 351h2v1h-2zM637 351h2v1h-2zM100 352h2v1h-2zM637 352h2v1h-2zM100 353h2v1h-2zM637 353h2v1h-2zM100 354h2v1h-2zM637 354h2v1h-2zM100 355h2v1h-2zM637 355h2v1h-2zM100 356h2v1h-2zM637 356h2v1h-2zM100 357h2v1h-2zM637 357h2v1h-2zM100 358h2v1h-2zM637 358h2v1h-2zM100 359h2v1h-2zM637 359h2v1h-2zM100 360h2v1h-2zM637 360h2v1h-2zM100 361h2v1h-2zM637 361h2v1h-2zM100 362h2v1h-2zM637 362h2v1h-2zM100 363h2v1h-2zM637 363h2v1h-2zM100 364h2v1h-2zM637 364h2v1h-2zM100 365h2v1h-2zM637 365h2v1h-2zM100 366h2v1h-2zM637 366h2v1h-2zM100 367h2v1h-2zM637 367h2v1h-2zM100 368h2v1h-2zM637 368h2v1h-2zM100 369h2v1h-2zM637 369h2v1h-2zM100 370h2v1h-2zM637 370h2v1h-2zM100 371h2v1h-2zM637 371h2v1h-2zM100 372h2v1h-2zM637 372h2v1h-2zM100 373h2v1h-2zM637 373h2v1h-2zM100 374h2v1h-2zM637 374h2v1h-2zM100 375h2v1h-2zM637 375h2v1h-2zM100 376h2v1h-2zM637 376h2v1h-2zM100 377h2v1h-2zM637 377h2v1h-2zM100 378h2v1h-2zM637 378h2v1h-2zM100 379h2v1h-2zM637 379h2v1h-2zM100 380h2v1h-2zM637 380h2v1h-2zM100 381h2v1h-2zM637 381h2v1h-2zM100 382h2v1h-2zM637 382h2v1h-2zM100 383h2v1h-2zM637 383h2v1h-2zM100 384h2v1h-2zM637 384h2v1h-2zM100 385h2v1h-2zM637 385h2v1h-2zM100 386h2v1h-2zM637 386h2v1h-2zM100 387h2v1h-2zM637 387h2v1h-2zM100 388h2v1h-2zM637 388h2v1h-2zM100 389h2v1h-2zM637 389h2v1h-2zM66 390h36v1h-36zM637 390h143v1h-143zM66 391h36v1h-36zM637 391h143v1h-143z"/>
<path fill="#000" d="M446 79h4v1h-4zM454 79h6v1h-6zM444 80h21v1h-21zM443 81h4v1h-4zM449 81h6v1h-6zM459 81h9v1h-9zM436 82h9v1h-9zM464 82h5v1h-5zM434 83h10v1h-10zM467 83h4v1h-4zM432 84h5v1h-5zM468 84h4v1h-4zM431 85h4v1h-4zM470 85h3v1h-3zM430 86h3v1h-3zM471 86h2v1h-2zM429 87h3v1h-3zM471 87h3v1h-3zM428 88h3v1h-3zM472 88h2v1h-2zM427 89h3v1h-3zM472 89h3v1h-3zM427 90h2v1h-2zM473 90h3v1h-3zM426 91h3v1h-3zM474 91h4v1h-4zM425 92h3v1h-3zM475 92h4v1h-4zM424 93h3v1h-3zM477 93h3v1h-3zM422 94h4v1h-4zM478 94h2v1h-2zM420 95h5v1h-5zM478 95h3v1h-3zM419 96h4v1h-4zM479 96h2v1h-2zM418 97h3v1h-3zM479 97h2v1h-2zM417 98h3v1h-3zM479 98h2v1h-2zM417 99h2v1h-2zM479 99h3v1h-3zM416 100h3v1h-3zM480 100h2v1h-2zM415 101h3v1h-3zM480 101h3v1h-3zM414 102h3v1h-3zM481 102h3v1h-3zM412 103h4v1h-4zM482 103h3v1h-3zM411 104h4v1h-4zM483 104h3v1h-3zM410 105h3v1h-3zM484 105h3v1h-3zM408 106h4v1h-4zM485 106h2v1h-2zM407 107h4v1h-4zM485 107h3v1h-3zM406 108h3v1h-3zM486 108h2v1h-2zM406 109h2v1h-2zM486 109h3v1h-3zM405 110h3v1h-3zM487 110h2v1h-2zM404 111h3v1h-3zM487 111h3v1h-3zM403 112h3v1h-3zM488 112h2v1h-2zM402 113h3v1h-3zM488 113h3v1h-3zM401 114h3v1h-3zM489 114h3v1h-3zM400 115h3v1h-3zM490 115h2v1h-2zM399 116h3v1h-3zM490 116h3v1h-3zM398 117h3v1h-3zM491 117h3v1h-3zM397 118h3v1h-3zM492 118h3v1h-3zM397 119h2v1h-2zM493 119h2v1h-2zM396 120h3v1h-3zM493 120h3v1h-3zM395 121h3v1h-3zM494 121h2v1h-2zM193 122h3v1h-3zM395 122h2v1h-2zM494 122h3v1h-3zM193 123h4v1h-4zM394 123h3v1h-3zM495 123h2v1h-2zM193 124h4v1h-4zM393 124h3v1h-3zM495 124h2v1h-2zM193 125h5v1h-5zM393 125h2v1h-2zM495 125h3v1h-3zM192 126h3v1h-3zM196 126h2v1h-2zM392 126h3v1h-3zM496 126h2v1h-2zM192 127h2v1h-2zM196 127h3v1h-3zM391 127h3v1h-3zM496 127h3v1h-3zM192 128h2v1h-2zM197 128h2v1h-2zM390 128h3v1h-3zM497 128h3v1h-3zM192 129h2v1h-2zM197 129h3v1h-3zM389 129h3v1h-3zM498 129h3v1h-3zM192 130h2v1h-2zM198 130h2v1h-2zM388 130h3v1h-3zM499 130h3v1h-3zM192 131h2v1h-2zM198 131h2v1h-2zM387 131h3v1h-3zM500 131h3v1h-3zM192 132h2v1h-2zM198 132h3v1h-3zM386 132h3v1h-3zM501 132h3v1h-3zM191 133h3v1h-3zM199 133h2v1h-2zM385 133h3v1h-3zM502 133h2v1h-2zM191 134h2v1h-2zM199 134h2v1h-2zM384 134h3v1h-3zM502 134h3v1h-3zM191 135h2v1h-2zM199 135h2v1h-2zM383 135h3v1h-3zM503 135h2v1h-2zM191 136h2v1h-2zM199 136h3v1h-3zM383 136h2v1h-2zM503 136h3v1h-3zM191 137h2v1h-2zM200 137h2v1h-2zM382 137h3v1h-3zM504 137h2v1h-2zM191 138h2v1h-2zM200 138h2v1h-2zM381 138h3v1h-3zM504 138h3v1h-3zM190 139h3v1h-3zM200 139h2v1h-2zM380 139h3v1h-3zM505 139h2v1h-2zM190 140h2v1h-2zM200 140h2v1h-2zM379 140h3v1h-3zM505 140h3v1h-3zM190 141h2v1h-2zM200 141h2v1h-2zM377 141h4v1h-4zM506 141h2v1h-2zM190 142h2v1h-2zM200 142h2v1h-2zM375 142h5v1h-5zM506 142h3v1h-3zM189 143h3v1h-3zM200 143h3v1h-3zM374 143h4v1h-4zM507 143h3v1h-3zM189 144h2v1h-2zM201 144h2v1h-2zM373 144h3v1h-3zM508 144h3v1h-3zM189 145h2v1h-2zM201 145h2v1h-2zM372 145h3v1h-3zM509 145h2v1h-2zM189 146h2v1h-2zM201 146h2v1h-2zM372 146h2v1h-2zM509 146h3v1h-3zM189 147h2v1h-2zM201 147h2v1h-2zM371 147h3v1h-3zM510 147h2v1h-2zM189 148h2v1h-2zM201 148h2v1h-2zM370 148h3v1h-3zM510 148h3v1h-3zM189 149h2v1h-2zM201 149h2v1h-2zM369 149h3v1h-3zM511 149h2v1h-2zM188 150h3v1h-3zM201 150h2v1h-2zM368 150h3v1h-3zM511 150h3v1h-3zM188 151h2v1h-2zM201 151h2v1h-2zM367 151h3v1h-3zM512 151h2v1h-2zM188 152h2v1h-2zM201 152h2v1h-2zM367 152h2v1h-2zM512 152h2v1h-2zM188 153h2v1h-2zM201 153h3v1h-3zM366 153h3v1h-3zM512 153h3v1h-3zM188 154h2v1h-2zM202 154h2v1h-2zM365 154h3v1h-3zM513 154h2v1h-2zM188 155h2v1h-2zM202 155h2v1h-2zM364 155h3v1h-3zM513 155h3v1h-3zM188 156h2v1h-2zM202 156h2v1h-2zM363 156h3v1h-3zM514 156h2v1h-2zM188 157h2v1h-2zM202 157h2v1h-2zM361 157h4v1h-4zM514 157h3v1h-3zM188 158h2v1h-2zM202 158h2v1h-2zM360 158h4v1h-4zM515 158h3v1h-3zM187 159h3v1h-3zM202 159h2v1h-2zM359 159h3v1h-3zM516 159h3v1h-3zM187 160h2v1h-2zM202 160h2v1h-2zM358 160h3v1h-3zM517 160h2v1h-2zM187 161h2v1h-2zM202 161h2v1h-2zM357 161h3v1h-3zM517 161h3v1h-3zM187 162h2v1h-2zM202 162h3v1h-3zM355 162h4v1h-4zM518 162h3v1h-3zM187 163h2v1h-2zM203 163h2v1h-2zM354 163h4v1h-4zM519 163h2v1h-2zM187 164h2v1h-2zM203 164h2v1h-2zM353 164h3v1h-3zM519 164h3v1h-3zM187 165h2v1h-2zM203 165h2v1h-2zM352 165h3v1h-3zM520 165h3v1h-3zM187 166h2v1h-2zM203 166h2v1h-2zM350 166h4v1h-4zM521 166h2v1h-2zM187 167h2v1h-2zM203 167h2v1h-2zM349 167h4v1h-4zM521 167h3v1h-3zM186 168h3v1h-3zM203 168h2v1h-2zM348 168h3v1h-3zM522 168h2v1h-2zM186 169h2v1h-2zM203 169h3v1h-3zM347 169h3v1h-3zM522 169h3v1h-3zM186 170h2v1h-2zM204 170h2v1h-2zM346 170h3v1h-3zM523 170h2v1h-2zM186 171h2v1h-2zM204 171h2v1h-2zM345 171h3v1h-3zM523 171h3v1h-3zM186 172h2v1h-2zM204 172h2v1h-2zM344 172h3v1h-3zM524 172h2v1h-2zM186 173h2v1h-2zM204 173h2v1h-2zM344 173h2v1h-2zM524 173h3v1h-3zM186 174h2v1h-2zM204 174h2v1h-2zM343 174h3v1h-3zM525 174h2v1h-2zM186 175h2v1h-2zM204 175h2v1h-2zM342 175h3v1h-3zM525 175h3v1h-3zM186 176h2v1h-2zM204 176h3v1h-3zM341 176h3v1h-3zM526 176h2v1h-2zM186 177h2v1h-2zM205 177h2v1h-2zM340 177h3v1h-3zM526 177h2v1h-2zM185 178h3v1h-3zM205 178h2v1h-2zM338 178h4v1h-4zM526 178h3v1h-3zM185 179h2v1h-2zM205 179h2v1h-2zM336 179h5v1h-5zM527 179h2v1h-2zM185 180h2v1h-2zM205 180h2v1h-2zM335 180h4v1h-4zM527 180h2v1h-2zM185 181h2v1h-2zM205 181h2v1h-2zM333 181h4v1h-4zM527 181h2v1h-2zM185 182h2v1h-2zM205 182h2v1h-2zM331 182h5v1h-5zM527 182h3v1h-3zM185 183h2v1h-2zM205 183h3v1h-3zM330 183h4v1h-4zM528 183h2v1h-2zM185 184h2v1h-2zM206 184h2v1h-2zM329 184h3v1h-3zM528 184h2v1h-2zM185 185h2v1h-2zM206 185h2v1h-2zM328 185h3v1h-3zM528 185h3v1h-3zM185 186h2v1h-2zM206 186h2v1h-2zM327 186h3v1h-3zM529 186h2v1h-2zM185 187h2v1h-2zM206 187h2v1h-2zM327 187h2v1h-2zM529 187h3v1h-3zM185 188h2v1h-2zM206 188h2v1h-2zM326 188h3v1h-3zM530 188h3v1h-3zM184 189h3v1h-3zM206 189h2v1h-2zM325 189h3v1h-3zM531 189h2v1h-2zM184 190h2v1h-2zM206 190h2v1h-2zM324 190h3v1h-3zM531 190h3v1h-3zM184 191h2v1h-2zM206 191h3v1h-3zM323 191h3v1h-3zM532 191h3v1h-3zM184 192h2v1h-2zM207 192h2v1h-2zM323 192h2v1h-2zM533 192h2v1h-2zM184 193h2v1h-2zM207 193h2v1h-2zM322 193h3v1h-3zM533 193h3v1h-3zM184 194h2v1h-2zM207 194h2v1h-2zM321 194h3v1h-3zM534 194h3v1h-3zM184 195h2v1h-2zM207 195h2v1h-2zM320 195h3v1h-3zM535 195h2v1h-2zM184 196h2v1h-2zM207 196h2v1h-2zM320 196h2v1h-2zM535 196h3v1h-3zM184 197h2v1h-2zM207 197h2v1h-2zM319 197h3v1h-3zM536 197h2v1h-2zM184 198h2v1h-2zM207 198h3v1h-3zM318 198h3v1h-3zM536 198h3v1h-3zM184 199h2v1h-2zM208 199h2v1h-2zM317 199h3v1h-3zM537 199h2v1h-2zM183 200h3v1h-3zM208 200h2v1h-2zM317 200h2v1h-2zM537 200h3v1h-3zM183 201h2v1h-2zM208 201h2v1h-2zM316 201h3v1h-3zM538 201h2v1h-2zM183 202h2v1h-2zM208 202h2v1h-2zM315 202h3v1h-3zM538 202h3v1h-3zM183 203h2v1h-2zM208 203h2v1h-2zM315 203h2v1h-2zM539 203h2v1h-2zM183 204h2v1h-2zM208 204h2v1h-2zM314 204h3v1h-3zM539 204h2v1h-2zM183 205h2v1h-2zM208 205h2v1h-2zM313 205h3v1h-3zM539 205h3v1h-3zM183 206h2v1h-2zM208 206h3v1h-3zM312 206h3v1h-3zM540 206h2v1h-2zM183 207h2v1h-2zM209 207h2v1h-2zM312 207h2v1h-2zM540 207h3v1h-3zM183 208h2v1h-2zM209 208h2v1h-2zM311 208h3v1h-3zM541 208h2v1h-2zM183 209h2v1h-2zM209 209h2v1h-2zM310 209h3v1h-3zM541 209h2v1h-2zM182 210h3v1h-3zM209 210h2v1h-2zM309 210h3v1h-3zM541 210h3v1h-3zM182 211h2v1h-2zM209 211h2v1h-2zM309 211h2v1h-2zM542 211h2v1h-2zM182 212h2v1h-2zM209 212h2v1h-2zM308 212h3v1h-3zM542 212h2v1h-2zM182 213h2v1h-2zM209 213h3v1h-3zM307 213h3v1h-3zM542 213h3v1h-3zM182 214h2v1h-2zM210 214h2v1h-2zM307 214h2v1h-2zM543 214h2v1h-2zM182 215h2v1h-2zM210 215h2v1h-2zM306 215h3v1h-3zM543 215h3v1h-3zM182 216h2v1h-2zM210 216h2v1h-2zM305 216h3v1h-3zM544 216h2v1h-2zM182 217h2v1h-2zM210 217h3v1h-3zM305 217h2v1h-2zM544 217h3v1h-3zM182 218h2v1h-2zM211 218h2v1h-2zM304 218h3v1h-3zM545 218h2v1h-2zM182 219h2v1h-2zM211 219h2v1h-2zM304 219h2v1h-2zM545 219h3v1h-3zM182 220h2v1h-2zM211 220h2v1h-2zM303 220h3v1h-3zM546 220h3v1h-3zM182 221h2v1h-2zM211 221h2v1h-2zM302 221h3v1h-3zM547 221h2v1h-2zM182 222h2v1h-2zM211 222h3v1h-3zM302 222h2v1h-2zM547 222h3v1h-3zM182 223h2v1h-2zM212 223h2v1h-2zM301 223h3v1h-3zM548 223h3v1h-3zM182 224h2v1h-2zM212 224h2v1h-2zM300 224h3v1h-3zM549 224h2v1h-2zM181 225h3v1h-3zM212 225h2v1h-2zM300 225h2v1h-2zM549 225h3v1h-3zM181 226h2v1h-2zM212 226h3v1h-3zM299 226h3v1h-3zM550 226h3v1h-3zM181 227h2v1h-2zM213 227h2v1h-2zM299 227h2v1h-2zM551 227h2v1h-2zM181 228h2v1h-2zM213 228h2v1h-2zM298 228h3v1h-3zM551 228h3v1h-3zM181 229h2v1h-2zM213 229h2v1h-2zM298 229h2v1h-2zM552 229h2v1h-2zM181 230h2v1h-2zM213 230h3v1h-3zM297 230h3v1h-3zM552 230h2v1h-2zM181 231h2v1h-2zM214 231h2v1h-2zM297 231h2v1h-2zM552 231h2v1h-2zM181 232h2v1h-2zM214 232h2v1h-2zM296 232h3v1h-3zM552 232h3v1h-3zM181 233h2v1h-2zM214 233h2v1h-2zM296 233h2v1h-2zM553 233h2v1h-2zM181 234h2v1h-2zM214 234h3v1h-3zM295 234h3v1h-3zM553 234h2v1h-2zM181 235h2v1h-2zM215 235h2v1h-2zM295 235h2v1h-2zM553 235h2v1h-2zM181 236h2v1h-2zM215 236h2v1h-2zM294 236h3v1h-3zM553 236h3v1h-3zM181 237h2v1h-2zM215 237h2v1h-2zM294 237h2v1h-2zM554 237h2v1h-2zM181 238h2v1h-2zM215 238h3v1h-3zM294 238h2v1h-2zM554 238h3v1h-3zM181 239h2v1h-2zM216 239h2v1h-2zM293 239h3v1h-3zM555 239h3v1h-3zM181 240h2v1h-2zM216 240h2v1h-2zM293 240h2v1h-2zM556 240h2v1h-2zM181 241h2v1h-2zM216 241h3v1h-3zM293 241h2v1h-2zM556 241h3v1h-3zM181 242h2v1h-2zM217 242h2v1h-2zM293 242h2v1h-2zM557 242h3v1h-3zM181 243h2v1h-2zM217 243h2v1h-2zM292 243h3v1h-3zM558 243h2v1h-2zM180 244h3v1h-3zM217 244h2v1h-2zM292 244h2v1h-2zM558 244h3v1h-3zM180 245h2v1h-2zM217 245h3v1h-3zM292 245h2v1h-2zM559 245h3v1h-3zM180 246h2v1h-2zM218 246h2v1h-2zM291 246h3v1h-3zM560 246h2v1h-2zM180 247h2v1h-2zM218 247h2v1h-2zM291 247h2v1h-2zM560 247h3v1h-3zM180 248h2v1h-2zM218 248h3v1h-3zM290 248h3v1h-3zM561 248h2v1h-2zM180 249h2v1h-2zM219 249h2v1h-2zM290 249h2v1h-2zM561 249h3v1h-3zM180 250h2v1h-2zM219 250h2v1h-2zM289 250h3v1h-3zM562 250h2v1h-2zM180 251h2v1h-2zM219 251h2v1h-2zM289 251h2v1h-2zM562 251h2v1h-2zM180 252h2v1h-2zM219 252h3v1h-3zM288 252h3v1h-3zM562 252h3v1h-3zM179 253h3v1h-3zM220 253h2v1h-2zM288 253h2v1h-2zM563 253h2v1h-2zM179 254h2v1h-2zM220 254h2v1h-2zM287 254h3v1h-3zM563 254h3v1h-3zM179 255h2v1h-2zM220 255h3v1h-3zM287 255h2v1h-2zM564 255h2v1h-2zM179 256h2v1h-2zM221 256h2v1h-2zM286 256h3v1h-3zM564 256h2v1h-2zM179 257h2v1h-2zM221 257h2v1h-2zM286 257h2v1h-2zM564 257h3v1h-3zM179 258h2v1h-2zM221 258h3v1h-3zM285 258h3v1h-3zM565 258h2v1h-2zM179 259h2v1h-2zM222 259h2v1h-2zM285 259h2v1h-2zM565 259h3v1h-3zM179 260h2v1h-2zM222 260h2v1h-2zM284 260h3v1h-3zM566 260h2v1h-2zM178 261h3v1h-3zM222 261h3v1h-3zM284 261h2v1h-2zM566 261h3v1h-3zM178 262h2v1h-2zM223 262h2v1h-2zM283 262h3v1h-3zM567 262h2v1h-2zM178 263h2v1h-2zM223 263h2v1h-2zM283 263h2v1h-2zM567 263h3v1h-3zM178 264h2v1h-2zM223 264h3v1h-3zM282 264h3v1h-3zM568 264h2v1h-2zM178 265h2v1h-2zM224 265h2v1h-2zM282 265h2v1h-2zM568 265h3v1h-3zM178 266h2v1h-2zM224 266h2v1h-2zM281 266h3v1h-3zM569 266h2v1h-2zM178 267h2v1h-2zM224 267h3v1h-3zM281 267h2v1h-2zM569 267h3v1h-3zM178 268h2v1h-2zM225 268h2v1h-2zM281 268h2v1h-2zM570 268h4v1h-4zM178 269h2v1h-2zM225 269h2v1h-2zM280 269h3v1h-3zM571 269h4v1h-4zM178 270h2v1h-2zM225 270h2v1h-2zM280 270h2v1h-2zM573 270h3v1h-3zM178 271h2v1h-2zM225 271h3v1h-3zM280 271h2v1h-2zM574 271h2v1h-2zM178 272h2v1h-2zM226 272h2v1h-2zM279 272h3v1h-3zM574 272h3v1h-3zM177 273h3v1h-3zM226 273h2v1h-2zM279 273h2v1h-2zM575 273h2v1h-2zM177 274h2v1h-2zM226 274h2v1h-2zM279 274h2v1h-2zM575 274h3v1h-3zM177 275h2v1h-2zM226 275h3v1h-3zM278 275h3v1h-3zM576 275h3v1h-3zM177 276h2v1h-2zM227 276h2v1h-2zM278 276h2v1h-2zM577 276h2v1h-2zM177 277h2v1h-2zM227 277h2v1h-2zM277 277h3v1h-3zM577 277h3v1h-3zM177 278h2v1h-2zM227 278h2v1h-2zM277 278h2v1h-2zM578 278h2v1h-2zM177 279h2v1h-2zM227 279h3v1h-3zM276 279h3v1h-3zM578 279h3v1h-3zM177 280h2v1h-2zM228 280h2v1h-2zM276 280h2v1h-2zM579 280h3v1h-3zM177 281h2v1h-2zM228 281h2v1h-2zM275 281h3v1h-3zM580 281h2v1h-2zM177 282h2v1h-2zM228 282h2v1h-2zM275 282h2v1h-2zM580 282h3v1h-3zM176 283h3v1h-3zM228 283h3v1h-3zM274 283h3v1h-3zM581 283h2v1h-2zM176 284h2v1h-2zM229 284h2v1h-2zM274 284h2v1h-2zM581 284h3v1h-3zM176 285h2v1h-2zM229 285h2v1h-2zM273 285h3v1h-3zM582 285h3v1h-3zM176 286h2v1h-2zM229 286h2v1h-2zM273 286h2v1h-2zM583 286h2v1h-2zM176 287h2v1h-2zM229 287h3v1h-3zM272 287h3v1h-3zM583 287h3v1h-3zM176 288h2v1h-2zM230 288h2v1h-2zM271 288h3v1h-3zM584 288h2v1h-2zM175 289h3v1h-3zM230 289h2v1h-2zM271 289h2v1h-2zM584 289h3v1h-3zM175 290h2v1h-2zM230 290h3v1h-3zM270 290h3v1h-3zM585 290h2v1h-2zM175 291h2v1h-2zM231 291h2v1h-2zM270 291h2v1h-2zM585 291h3v1h-3zM175 292h2v1h-2zM231 292h2v1h-2zM269 292h3v1h-3zM586 292h3v1h-3zM175 293h2v1h-2zM231 293h2v1h-2zM268 293h3v1h-3zM587 293h2v1h-2zM175 294h2v1h-2zM231 294h3v1h-3zM268 294h2v1h-2zM587 294h3v1h-3zM174 295h3v1h-3zM232 295h2v1h-2zM267 295h3v1h-3zM588 295h2v1h-2zM174 296h2v1h-2zM232 296h2v1h-2zM267 296h2v1h-2zM588 296h3v1h-3zM174 297h2v1h-2zM232 297h3v1h-3zM266 297h3v1h-3zM589 297h2v1h-2zM174 298h2v1h-2zM233 298h2v1h-2zM266 298h2v1h-2zM589 298h3v1h-3zM174 299h2v1h-2zM233 299h2v1h-2zM266 299h2v1h-2zM590 299h3v1h-3zM174 300h2v1h-2zM233 300h2v1h-2zM266 300h2v1h-2zM591 300h3v1h-3zM173 301h3v1h-3zM233 301h3v1h-3zM265 301h3v1h-3zM592 301h3v1h-3zM173 302h2v1h-2zM234 302h2v1h-2zM265 302h2v1h-2zM593 302h2v1h-2zM173 303h2v1h-2zM234 303h3v1h-3zM264 303h3v1h-3zM593 303h3v1h-3zM173 304h2v1h-2zM235 304h3v1h-3zM263 304h3v1h-3zM594 304h3v1h-3zM173 305h2v1h-2zM236 305h3v1h-3zM262 305h3v1h-3zM595 305h3v1h-3zM173 306h2v1h-2zM237 306h3v1h-3zM261 306h3v1h-3zM596 306h3v1h-3zM172 307h3v1h-3zM238 307h3v1h-3zM261 307h2v1h-2zM597 307h3v1h-3zM172 308h2v1h-2zM239 308h2v1h-2zM260 308h3v1h-3zM598 308h2v1h-2zM172 309h2v1h-2zM239 309h3v1h-3zM259 309h3v1h-3zM598 309h3v1h-3zM172 310h2v1h-2zM240 310h2v1h-2zM258 310h3v1h-3zM599 310h3v1h-3zM171 311h3v1h-3zM240 311h3v1h-3zM256 311h4v1h-4zM600 311h3v1h-3zM171 312h2v1h-2zM241 312h2v1h-2zM253 312h6v1h-6zM601 312h3v1h-3zM171 313h2v1h-2zM241 313h3v1h-3zM251 313h6v1h-6zM602 313h3v1h-3zM171 314h2v1h-2zM242 314h12v1h-12zM603 314h3v1h-3zM170 315h3v1h-3zM242 315h10v1h-10zM604 315h2v1h-2zM170 316h2v1h-2zM604 316h3v1h-3zM170 317h2v1h-2zM605 317h3v1h-3zM169 318h3v1h-3zM606 318h3v1h-3zM169 319h2v1h-2zM607 319h3v1h-3zM169 320h2v1h-2zM608 320h3v1h-3zM169 321h2v1h-2zM609 321h2v1h-2zM169 322h2v1h-2zM609 322h3v1h-3zM169 323h2v1h-2zM610 323h3v1h-3zM169 324h2v1h-2zM611 324h3v1h-3zM168 325h3v1h-3zM612 325h3v1h-3zM168 326h2v1h-2zM613 326h3v1h-3zM168 327h2v1h-2zM614 327h3v1h-3zM168 328h2v1h-2zM615 328h3v1h-3zM168 329h2v1h-2zM616 329h3v1h-3zM168 330h2v1h-2zM617 330h3v1h-3zM167 331h3v1h-3zM618 331h3v1h-3zM167 332h2v1h-2zM619 332h3v1h-3zM167 333h2v1h-2zM620 333h3v1h-3zM167 334h2v1h-2zM621 334h3v1h-3zM166 335h3v1h-3zM622 335h3v1h-3zM166 336h2v1h-2zM623 336h3v1h-3zM166 337h2v1h-2zM624 337h3v1h-3zM165 338h3v1h-3zM625 338h3v1h-3zM165 339h2v1h-2zM626 339h4v1h-4zM165 340h2v1h-2zM627 340h4v1h-4zM164 341h3v1h-3zM629 341h3v1h-3zM164 342h2v1h-2zM630 342h3v1h-3zM163 343h3v1h-3zM631 343h3v1h-3zM163 344h2v1h-2zM632 344h4v1h-4zM163 345h2v1h-2zM633 345h4v1h-4zM162 346h3v1h-3zM635 346h3v1h-3zM162 347h2v1h-2zM636 347h2v1h-2zM161 348h3v1h-3zM636 348h2v1h-2zM161 349h2v1h-2zM636 349h2v1h-2zM160 350h3v1h-3zM636 350h2v1h-2zM160 351h2v1h-2zM636 351h2v1h-2zM160 352h2v1h-2zM636 352h2v1h-2zM160 353h2v1h-2zM636 353h2v1h-2zM159 354h3v1h-3zM636 354h2v1h-2zM159 355h2v1h-2zM636 355h2v1h-2zM159 356h2v1h-2zM636 356h2v1h-2zM159 357h2v1h-2zM636 357h2v1h-2zM158 358h3v1h-3zM636 358h2v1h-2zM158 359h2v1h-2zM636 359h2v1h-2zM157 360h3v1h-3zM636 360h2v1h-2zM157 361h2v1h-2zM636 361h2v1h-2zM156 362h3v1h-3zM636 362h2v1h-2zM156 363h2v1h-2zM636 363h2v1h-2zM155 364h3v1h-3zM636 364h2v1h-2zM154 365h3v1h-3zM636 365h2v1h-2zM154 366h2v1h-2zM636 366h2v1h-2zM153 367h3v1h-3zM636 367h2v1h-2zM153 368h2v1h-2zM636 368h2v1h-2zM152 369h3v1h-3zM636 369h3v1h-3zM152 370h2v1h-2zM637 370h2v1h-2zM151 371h3v1h-3zM637 371h2v1h-2zM151 372h2v1h-2zM637 372h2v1h-2zM150 373h3v1h-3zM637 373h2v1h-2zM150 374h2v1h-2zM637 374h2v1h-2zM148 375h4v1h-4zM637 375h2v1h-2zM146 376h5v1h-5zM637 376h2v1h-2zM145 377h4v1h-4zM637 377h2v1h-2zM144 378h3v1h-3zM637 378h2v1h-2zM143 379h3v1h-3zM637 379h2v1h-2zM142 380h3v1h-3zM637 380h2v1h-2zM140 381h4v1h-4zM637 381h2v1h-2zM138 382h5v1h-5zM637 382h2v1h-2zM137 383h4v1h-4zM637 383h2v1h-2zM136 384h3v1h-3zM637 384h2v1h-2zM135 385h3v1h-3zM637 385h2v1h-2zM129 386h8v1h-8zM637 386h2v1h-2zM119 387h5v1h-5zM127 387h9v1h-9zM637 387h2v1h-2zM107 388h4v1h-4zM117 388h13v1h-13zM637 388h2v1h-2zM103 389h12v1h-12zM116 389h4v1h-4zM123 389h5v1h-5zM637 389h2v1h-2zM66 390h42v1h-42zM110 390h8v1h-8zM637 390h143v1h-143zM66 391h38v1h-38zM114 391h3v1h-3zM637 391h143v1h-143z"/>
</g>
<path fill="#000" d="M776 5h1v1h-1zM773 6h4v1h-4zM772 7h7v1h-7zM770 8h4v1h-4zM776 8h4v1h-4zM769 9h4v1h-4zM778 9h4v1h-4zM767 10h4v1h-4zM779 10h4v1h-4zM766 11h4v1h-4zM781 11h4v1h-4zM764 12h4v1h-4zM782 12h4v1h-4zM763 13h4v1h-4zM784 13h4v1h-4zM763 14h2v1h-2zM785 14h3v1h-3z"/>
<path fill="#ff3838" d="M776 26h1v1h-1zM773 27h4v1h-4zM772 28h7v1h-7zM770 29h4v1h-4zM776 29h4v1h-4zM769 30h4v1h-4zM778 30h4v1h-4zM767 31h4v1h-4zM779 31h4v1h-4zM766 32h4v1h-4zM781 32h4v1h-4zM764 33h4v1h-4zM782 33h4v1h-4zM763 34h4v1h-4zM784 34h4v1h-4zM763 35h2v1h-2zM785 35h3v1h-3z"/>
<path fill="#00dc3c" d="M776 47h1v1h-1zM773 48h4v1h-4zM772 49h7v1h-7zM770 50h4v1h-4zM776 50h4v1h-4zM769 51h4v1h-4zM778 51h4v1h-4zM767 52h4v1h-4zM779 52h4v1h-4zM766 53h4v1h-4zM781 53h4v1h-4zM764 54h4v1h-4zM782 54h4v1h-4zM763 55h4v1h-4zM784 55h4v1h-4zM763 56h2v1h-2zM785 56h3v1h-3z"/>
</svg>
<div id="pr"></div><div id="pb"></div>
</body></html>
